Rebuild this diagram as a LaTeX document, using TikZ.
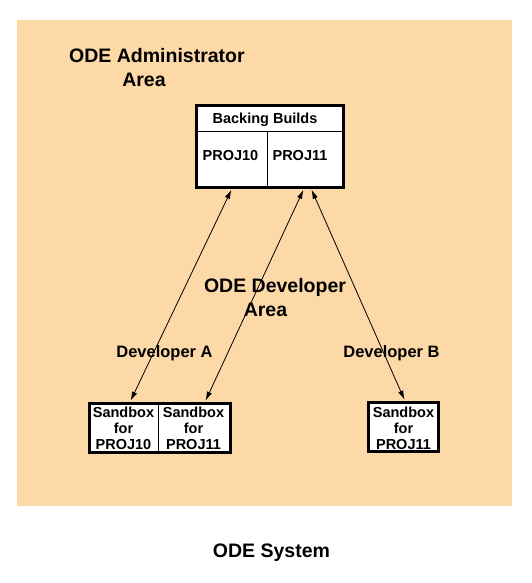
\documentclass[tikz,border=0pt]{standalone}
\usepackage{fontspec}
\setmainfont{Liberation Sans}
\usetikzlibrary{arrows.meta}
\definecolor{peach}{RGB}{253,217,168}
\begin{document}
\begin{tikzpicture}[x=1pt,y=-1pt,
  lbl/.style={font=\bfseries\fontsize{19.5}{22}\selectfont, inner sep=0, anchor=base},
  devlbl/.style={font=\bfseries\fontsize{16.5}{19}\selectfont, inner sep=0, anchor=base},
  boxtxt/.style={font=\bfseries\fontsize{14.5}{16}\selectfont, inner sep=0},
  frame/.style={draw, line width=3pt, fill=white, inner sep=0},
  divider/.style={line width=1pt},
  conn/.style={line width=0.8pt, shorten <=1.5pt, shorten >=1.5pt,
    {Latex[length=9pt,width=5.5pt]}-{Latex[length=9pt,width=5.5pt]}}
]
\useasboundingbox (0,0) rectangle (532,583);
\fill[peach] (17,20) rectangle (512,506);

% titles
\node[lbl, anchor=base west] (adm) at (69,63) {ODE Administrator};
\node[lbl] (adm2) at (144,87) {Area};
\node[lbl] (devarea) at (275,292) {ODE Developer};
\node[lbl] (devarea2) at (265.5,316) {Area};
\node[devlbl] (da) at (164.5,357) {Developer A};
\node[devlbl] (db) at (391.5,357) {Developer B};
\node[lbl] (sys) at (271.5,557) {ODE System};

% backing builds box
\node[frame, minimum width=147pt, minimum height=81pt] (bb) at (270,146.5) {};
\coordinate (hl) at (0,131);
\coordinate (vd) at (267,0);
\draw[divider] (bb.west |- hl) -- (bb.east |- hl);
\draw[divider] (vd |- hl) -- (vd |- bb.south);
\node[boxtxt, anchor=base] (bbt) at (265,124) {Backing Builds};
\node[boxtxt, anchor=base] (p10) at (230.5,160.5) {PROJ10};
\node[boxtxt, anchor=base] (p11) at (300,160.5) {PROJ11};

% sandboxes of developer A
\node[frame, minimum width=141pt, minimum height=49pt] (sbA) at (160,428) {};
\coordinate (dv) at (158,0);
\draw[divider] (sbA.north -| dv) -- (sbA.south -| dv);
\node[boxtxt, align=center] (sa10) at (123.5,428) {Sandbox\\for\\PROJ10};
\node[boxtxt, align=center] (sa11) at (193.5,428) {Sandbox\\for\\PROJ11};

% sandbox of developer B
\node[frame, minimum width=70pt, minimum height=49pt] (sbB) at (403.5,427) {};
\node[boxtxt, align=center] (sb11) at (403.5,428) {Sandbox\\for\\PROJ11};

% connectors
\coordinate (x1) at (232,0);
\coordinate (x2) at (130,0);
\coordinate (x3) at (304,0);
\coordinate (x4) at (205,0);
\coordinate (x5) at (311,0);
\coordinate (x6) at (405,0);
\draw[conn] (bb.south -| x1) -- (sbA.north -| x2);
\draw[conn] (bb.south -| x3) -- (sbA.north -| x4);
\draw[conn] (bb.south -| x5) -- (sbB.north -| x6);
\end{tikzpicture}
\end{document}
